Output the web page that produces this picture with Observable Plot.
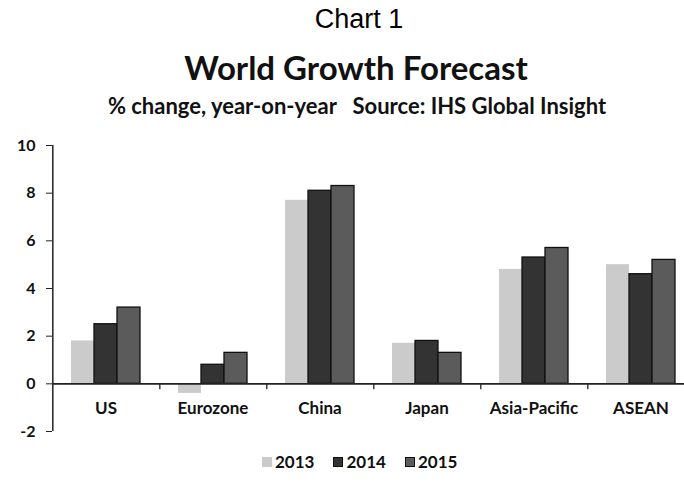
<!DOCTYPE html>
<html>
<head>
<meta charset="utf-8">
<script src="https://cdn.jsdelivr.net/npm/d3@7"></script>
<script src="https://cdn.jsdelivr.net/npm/@observablehq/plot@0.6"></script>
<style>
  html, body { margin: 0; padding: 0; background: #fff; overflow: hidden; }
  #wrap { position: relative; width: 684px; height: 485px; overflow: hidden; }
  .t { position: absolute; white-space: pre; transform: translateX(-50%); color: #111; line-height: normal; }
  #chartno { left: 359px; top: 4px; font: 27px "Liberation Sans", Arial, sans-serif; color: #000; }
  #title { left: 356px; top: 47px; font: bold 33px Lato, sans-serif; }
  #subtitle { left: 357px; top: 92px; font: bold 22px Lato, sans-serif; }
  #chart { position: absolute; left: 0; top: 130px; }
  #legend { position: absolute; left: 262px; top: 451px; display: flex; font: bold 17px Lato, sans-serif; color: #111; }
  .item { display: flex; align-items: center; margin-right: 19px; }
  .sw { width: 10px; height: 10px; margin-right: 3px; box-sizing: border-box; }
</style>
</head>
<body>
<div id="wrap">
  <div class="t" id="chartno">Chart 1</div>
  <div class="t" id="title">World Growth Forecast</div>
  <div class="t" id="subtitle">% change, year-on-year   Source: IHS Global Insight</div>
  <div id="chart"></div>
  <div id="legend"></div>
</div>
<script>
// ---- data ----
const categories = ["US", "Eurozone", "China", "Japan", "Asia-Pacific", "ASEAN"];
const years = ["2013", "2014", "2015"];
const v2013 = [1.8, -0.4, 7.7, 1.7, 4.8, 5.0];
const v2014 = [2.5, 0.8, 8.1, 1.8, 5.3, 4.6];
const v2015 = [3.2, 1.3, 8.3, 1.3, 5.7, 5.2];
const yTicks = [-2, 0, 2, 4, 6, 8, 10];
const colors = ["#cbcbcb", "#333333", "#5b5b5b"];

const series = [v2013, v2014, v2015];
const data = [];
categories.forEach((c, i) => years.forEach((y, j) => data.push({category: c, year: y, value: series[j][i]})));

// ---- layout ----
const W = 684, H = 315;
const mL = 51, mT = 15, mB = 14;
const fxRange = [mL, 694];
const xPadOuter = 0.79;
const fxStep = (fxRange[1] - fxRange[0]) / categories.length;
const xStep = fxStep / (years.length + 2 * xPadOuter);
const edgeDx = -(xPadOuter * xStep + xStep / 2); // from first bar centre to facet edge

const chart = Plot.plot({
  width: W,
  height: H,
  marginLeft: mL,
  marginRight: 0,
  marginTop: mT,
  marginBottom: mB,
  style: {background: "transparent", overflow: "visible"},
  fx: {domain: categories, range: fxRange, padding: 0, axis: null, label: null},
  x: {domain: years, paddingInner: 0, paddingOuter: xPadOuter, axis: null, label: null},
  y: {domain: [-2, 10], axis: null, label: null},
  color: {domain: years, range: colors},
  marks: [
    Plot.barY(data.filter(d => d.year === years[0]), {fx: "category", x: "year", y: "value", fill: "year"}),
    Plot.barY(data.filter(d => d.year !== years[0]), {fx: "category", x: "year", y: "value", fill: "year", stroke: "#111", strokeWidth: 1.3}),
    Plot.ruleY([0], {stroke: "#222", strokeWidth: 1.6}),
    Plot.ruleX(categories.slice(1), {fx: d => d, x: () => years[0], y1: 0, y2: -0.25, dx: edgeDx, stroke: "#222", strokeWidth: 1.3}),
    Plot.ruleX(categories.slice(0, 1), {fx: d => d, x: () => years[0], y1: -2, y2: 10, dx: edgeDx, stroke: "#222", strokeWidth: 1.5}),
    Plot.axisY({ticks: yTicks, label: null, tickSize: 6, tickPadding: 11, tickFormat: d => String(d), fontSize: 16, fontWeight: "bold", fontFamily: "Lato, sans-serif", stroke: "#222", fill: "#111"}),
    Plot.text(categories, {fx: d => d, y: () => 0, text: d => d, dy: 25, fontSize: 17, fontWeight: "bold", fontFamily: "Lato, sans-serif", fill: "#111"})
  ]
});
document.getElementById("chart").appendChild(chart);

// ---- legend ----
const legend = document.getElementById("legend");
years.forEach((y, j) => {
  const item = document.createElement("div");
  item.className = "item";
  const sw = document.createElement("div");
  sw.className = "sw";
  sw.style.background = colors[j];
  if (j > 0) sw.style.border = "1px solid #111";
  const lab = document.createElement("span");
  lab.textContent = y;
  item.appendChild(sw);
  item.appendChild(lab);
  legend.appendChild(item);
});
</script>
</body>
</html>
